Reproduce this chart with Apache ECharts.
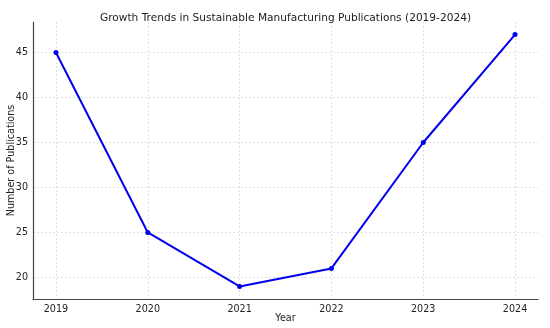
<!DOCTYPE html>
<html>
<head>
<meta charset="utf-8">
<script src="https://cdn.jsdelivr.net/npm/echarts@6/dist/echarts.min.js"></script>
<style>html,body{margin:0;padding:0;background:#fff}#c{width:550px;height:328px}</style>
</head>
<body>
<div id="c"></div>
<script>
const years = [2019, 2020, 2021, 2022, 2023, 2024];
const publications = [45, 25, 19, 21, 35, 47];
const yTicks = [20, 25, 30, 35, 40, 45];
const title = 'Growth Trends in Sustainable Manufacturing Publications (2019-2024)';

const font = 'DejaVu Sans';
const chart = echarts.init(document.getElementById('c'), null, {renderer: 'canvas'});
chart.setOption({
  animation: false,
  backgroundColor: '#fff',
  title: {
    text: title, left: 280.5, top: 8, textAlign: 'center',
    textStyle: {fontFamily: font, fontSize: 10.6, fontWeight: 'normal', color: '#222'}
  },
  grid: {left: 33, right: 12, top: 22, bottom: 29, outerBoundsMode: 'none', containLabel: false},
  xAxis: {
    type: 'value', min: 2018.75, max: 2024.25,
    name: 'Year', nameLocation: 'middle', nameGap: 14, nameMoveOverlap: false,
    nameTextStyle: {fontFamily: font, fontSize: 9.6, color: '#222', verticalAlign: 'top'},
    axisLine: {show: true, lineStyle: {color: '#444', width: 1.2}},
    axisTick: {show: false, customValues: years},
    axisLabel: {customValues: years, fontFamily: font, fontSize: 9.6, color: '#222', margin: 5, formatter: v => String(v)},
    splitLine: {show: true, lineStyle: {color: '#d8d8d8', type: [2, 2], width: 0.8}}
  },
  yAxis: {
    type: 'value', min: 17.6, max: 48.4,
    name: 'Number of Publications', nameLocation: 'middle', nameGap: 17, nameMoveOverlap: false,
    nameTextStyle: {fontFamily: font, fontSize: 9.6, color: '#222'},
    axisLine: {show: true, lineStyle: {color: '#444', width: 1.2}},
    axisTick: {show: false, customValues: yTicks},
    axisLabel: {customValues: yTicks, fontFamily: font, fontSize: 9.6, color: '#222', margin: 5, formatter: v => String(v)},
    splitLine: {show: true, lineStyle: {color: '#d8d8d8', type: [2, 2], width: 0.8}}
  },
  series: [{
    type: 'line',
    data: years.map((y, i) => [y, publications[i]]),
    lineStyle: {color: '#0000ee', width: 2},
    itemStyle: {color: '#0000ee'},
    symbol: 'circle', symbolSize: 5,
    showAllSymbol: true
  }]
});
</script>
</body>
</html>
